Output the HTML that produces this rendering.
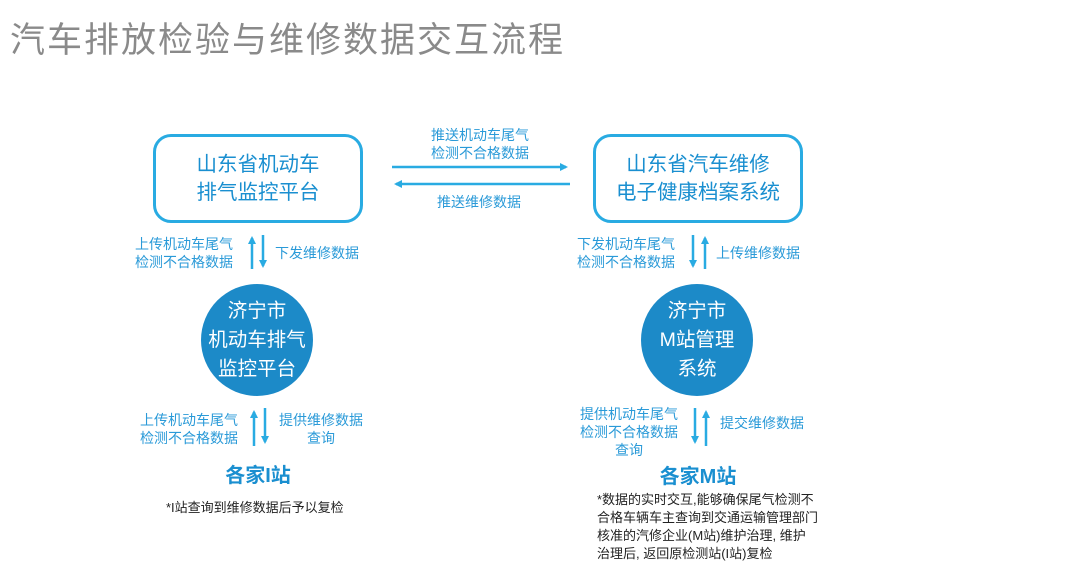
<!DOCTYPE html><html><head><meta charset="utf-8"><style>
body{margin:0;width:1080px;height:563px;background:#fff;position:relative;overflow:hidden;font-family:"Liberation Sans","Noto Sans CJK SC",sans-serif}
div{position:absolute}
.t{color:#2a9ad8;font-size:14px;line-height:18px;white-space:nowrap}
.box{border:3px solid #29abe2;border-radius:18px;color:#1a8fd0;font-size:20.5px;line-height:28px;text-align:center;display:flex;align-items:center;justify-content:center;box-sizing:border-box;width:210px;height:89px}
.c{width:112px;height:112px;border-radius:50%;background:#1c8ac8;color:#fff;font-size:19.5px;line-height:29px;text-align:center;display:flex;align-items:center;justify-content:center}
.st{color:#1a8fd0;font-size:20px;font-weight:bold;text-align:center;width:160px}
.n{color:#222;font-size:13px;line-height:18px;white-space:nowrap}
</style></head><body>
<div style="left:10px;top:12px;font-size:35px;color:#8a8a8a;letter-spacing:2px">汽车排放检验与维修数据交互流程</div>
<div class="box" style="left:153px;top:134px">山东省机动车<br>排气监控平台</div>
<div class="box" style="left:593px;top:134px">山东省汽车维修<br>电子健康档案系统</div>
<div class="t" style="left:431px;top:126px;text-align:center">推送机动车尾气<br>检测不合格数据</div>
<div class="t" style="left:437px;top:193px">推送维修数据</div>
<div class="c" style="left:201px;top:284px">济宁市<br>机动车排气<br>监控平台</div>
<div class="c" style="left:641px;top:284px">济宁市<br>M站管理<br>系统</div>
<div class="t" style="left:135px;top:235px">上传机动车尾气<br>检测不合格数据</div>
<div class="t" style="left:275px;top:244px">下发维修数据</div>
<div class="t" style="left:577px;top:235px">下发机动车尾气<br>检测不合格数据</div>
<div class="t" style="left:716px;top:244px">上传维修数据</div>
<div class="t" style="left:140px;top:411px">上传机动车尾气<br>检测不合格数据</div>
<div class="t" style="left:279px;top:411px;text-align:center">提供维修数据<br>查询</div>
<div class="t" style="left:580px;top:405px;text-align:center">提供机动车尾气<br>检测不合格数据<br>查询</div>
<div class="t" style="left:720px;top:414px">提交维修数据</div>
<div class="st" style="left:178px;top:459px">各家I站</div>
<div class="st" style="left:618px;top:460px">各家M站</div>
<div class="n" style="left:166px;top:499px">*I站查询到维修数据后予以复检</div>
<div class="n" style="left:597px;top:491px">*数据的实时交互,能够确保尾气检测不<br>合格车辆车主查询到交通运输管理部门<br>核准的汽修企业(M站)维护治理, 维护<br>治理后, 返回原检测站(I站)复检</div>
<svg width="1080" height="563" style="position:absolute;left:0;top:0">
<defs><marker id="a" markerWidth="8" markerHeight="8" refX="6" refY="4" orient="auto" markerUnits="userSpaceOnUse"><path d="M0,0 L8,4 L0,8 z" fill="#29abe2"/></marker></defs>
<g stroke="#29abe2" stroke-width="2.5" marker-end="url(#a)">
<line x1="392" y1="167" x2="566" y2="167"/>
<line x1="570" y1="184" x2="396" y2="184"/>
<line x1="252" y1="269" x2="252" y2="238"/>
<line x1="263" y1="235" x2="263" y2="266"/>
<line x1="693" y1="235" x2="693" y2="266"/>
<line x1="705" y1="269" x2="705" y2="238"/>
<line x1="254" y1="446" x2="254" y2="412"/>
<line x1="265" y1="408" x2="265" y2="442"/>
<line x1="695" y1="408" x2="695" y2="442"/>
<line x1="706" y1="446" x2="706" y2="412"/>
</g></svg>
</body></html>
